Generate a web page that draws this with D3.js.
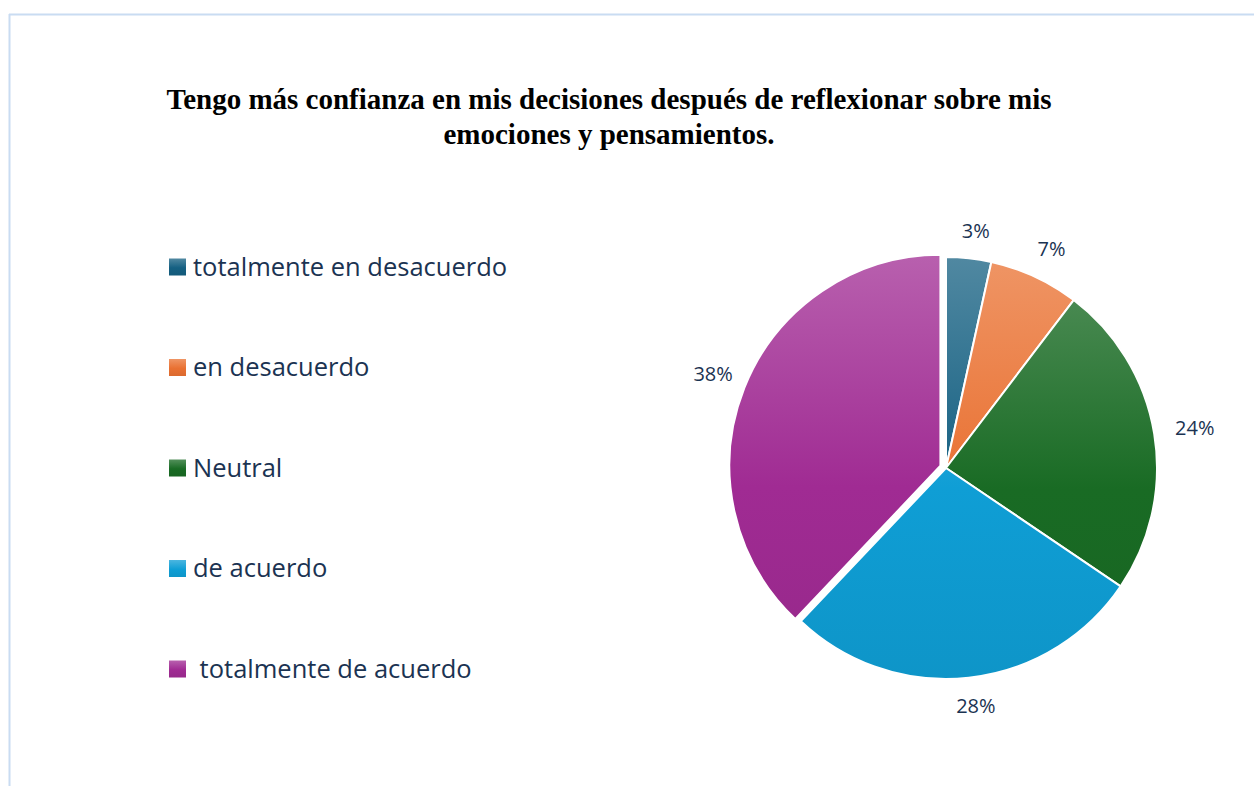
<!DOCTYPE html>
<html>
<head>
<meta charset="utf-8">
<script src="https://cdn.jsdelivr.net/npm/d3@7"></script>
<style>
  html, body { margin: 0; padding: 0; background: #fff; }
  svg { display: block; }
</style>
</head>
<body>
<div id="chart"></div>
<script>
// data (counts give the shown percentages)
const categories = ['totalmente en desacuerdo', 'en desacuerdo', 'Neutral', 'de acuerdo', ' totalmente de acuerdo'];
const counts = [1, 2, 7, 8, 11];
const pctLabels = ['3%', '7%', '24%', '28%', '38%'];
const colors = ['#156082', '#E97132', '#196B24', '#0F9ED5', '#A02B93'];
const exploded = [0, 0, 0, 0, 6];
const titleLines = ['Tengo más confianza en mis decisiones después de reflexionar sobre mis', 'emociones y pensamientos.'];

const width = 1254, height = 786;
const cx = 946, cy = 468, radius = 211;
const textColor = '#1b3352';

const svg = d3.select('#chart').append('svg')
  .attr('width', width)
  .attr('height', height);

// frame lines
svg.append('line').attr('x1', 9).attr('x2', width).attr('y1', 14.5).attr('y2', 14.5)
  .attr('stroke', '#c9dcf2').attr('stroke-width', 2);
svg.append('line').attr('x1', 9.5).attr('x2', 9.5).attr('y1', 14).attr('y2', height)
  .attr('stroke', '#c9dcf2').attr('stroke-width', 2);

const defs = svg.append('defs');

function addStops(g, c) {
  g.append('stop').attr('offset', '0%').attr('stop-color', d3.interpolateRgb(c, '#fff')(0.25));
  g.append('stop').attr('offset', '55%').attr('stop-color', c);
  g.append('stop').attr('offset', '100%').attr('stop-color', d3.interpolateRgb(c, '#000')(0.06));
}

colors.forEach((c, i) => {
  // legend swatches
  addStops(defs.append('linearGradient')
    .attr('id', 'grad' + i)
    .attr('x1', 0).attr('y1', 0).attr('x2', 0).attr('y2', 1), c);
  // pie slices, in pie-local coordinates
  addStops(defs.append('linearGradient')
    .attr('id', 'gradPie' + i)
    .attr('gradientUnits', 'userSpaceOnUse')
    .attr('x1', 0).attr('y1', -radius).attr('x2', 0).attr('y2', radius), c);
});

// title
const title = svg.append('text')
  .attr('text-anchor', 'middle')
  .attr('font-family', '"Liberation Serif", "Times New Roman", serif')
  .attr('font-weight', 'bold')
  .attr('font-size', 29)
  .attr('fill', '#000');
titleLines.forEach((t, i) => {
  title.append('tspan').attr('x', 609).attr('y', 109 + i * 35).text(t);
});

// pie
const pie = d3.pie().sort(null).value(d => d);
const arcs = pie(counts);
const arc = d3.arc().innerRadius(0).outerRadius(radius);

const pieG = svg.append('g').attr('transform', `translate(${cx},${cy})`);

function offset(d, dist) {
  const a = (d.startAngle + d.endAngle) / 2;
  return [Math.sin(a) * dist, -Math.cos(a) * dist];
}

pieG.selectAll('path')
  .data(arcs)
  .enter().append('path')
  .attr('d', arc)
  .attr('transform', (d, i) => {
    const o = offset(d, exploded[i]);
    return `translate(${o[0]},${o[1]})`;
  })
  .attr('fill', (d, i) => `url(#gradPie${i})`)
  .attr('stroke', '#fff')
  .attr('stroke-width', 2)
  .attr('stroke-linejoin', 'round');

// data labels outside the slices
const labels = pieG.selectAll('text.lbl')
  .data(arcs)
  .enter().append('text')
  .attr('class', 'lbl')
  .attr('font-family', '"Open Sans", sans-serif')
  .attr('font-size', 20)
  .attr('fill', textColor)
  .attr('text-anchor', 'middle')
  .attr('dominant-baseline', 'central')
  .text((d, i) => pctLabels[i]);

labels.each(function(d, i) {
  const bb = this.getBBox();
  const a = (d.startAngle + d.endAngle) / 2;
  const ux = Math.sin(a), uy = -Math.cos(a);
  const half = Math.abs(ux) * bb.width / 2 + Math.abs(uy) * 10;
  const dist = radius + exploded[i] + 16 + half;
  d3.select(this).attr('x', ux * dist + 4).attr('y', uy * dist);
});

// legend
const legend = svg.append('g');
const rowY = d3.scalePoint().domain(d3.range(categories.length)).range([267, 669]);
const item = legend.selectAll('g')
  .data(categories)
  .enter().append('g')
  .attr('transform', (d, i) => `translate(169,${rowY(i)})`);

item.append('rect')
  .attr('x', 0).attr('y', -8.5)
  .attr('width', 17).attr('height', 17)
  .attr('fill', (d, i) => `url(#grad${i})`);

item.append('text')
  .attr('x', 24)
  .attr('dy', '0.35em')
  .attr('font-family', '"Open Sans", sans-serif')
  .attr('font-size', 25.5)
  .attr('fill', textColor)
  .attr('xml:space', 'preserve')
  .style('white-space', 'pre')
  .text(d => d);
</script>
</body>
</html>
